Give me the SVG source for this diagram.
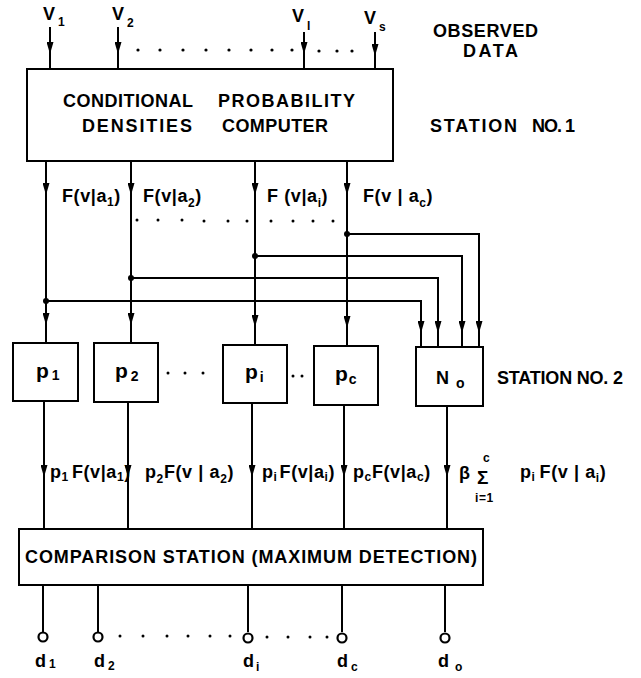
<svg xmlns="http://www.w3.org/2000/svg" width="641" height="678" viewBox="0 0 641 678">
<style>
.ln{stroke:#000;stroke-width:2;fill:none}
.bx{fill:#fff;stroke:#000;stroke-width:2}
.t{font-family:"Liberation Sans",Arial,sans-serif;font-weight:bold;font-size:18px;fill:#000}
.lb{letter-spacing:0.6px}
.s{font-size:12px}
.big{font-size:21px}
.bs{font-size:14px}
.dt{fill:#000}
.term{fill:#fff;stroke:#000;stroke-width:2.2}
</style>
<defs>
<marker id="ah" viewBox="0 0 12 7" refX="12" refY="3.5" markerWidth="12" markerHeight="7" markerUnits="userSpaceOnUse" orient="auto" preserveAspectRatio="none">
<path d="M0,0 L12,3.5 L0,7 z" fill="#000"/>
</marker>
</defs>
<rect width="641" height="678" fill="#fff"/>

<g id="connectors">
<path class="ln" marker-mid="url(#ah)" d="M50,27 V54 V69"/>
<path class="ln" marker-mid="url(#ah)" d="M118,27 V54 V69"/>
<path class="ln" marker-mid="url(#ah)" d="M304,32 V54 V69"/>
<path class="ln" marker-mid="url(#ah)" d="M375,32 V56 V69"/>
<path class="ln" marker-mid="url(#ah)" d="M46,161 V195 V325 V343"/>
<path class="ln" marker-mid="url(#ah)" d="M131,161 V195 V325 V343"/>
<path class="ln" marker-mid="url(#ah)" d="M255,161 V195 V327 V345"/>
<path class="ln" marker-mid="url(#ah)" d="M347,161 V195 V328 V346"/>
<path class="ln" marker-end="url(#ah)" d="M347,234 H479 V333"/>
<path class="ln" d="M479,333 V347"/>
<path class="ln" marker-end="url(#ah)" d="M255,256 H462 V333"/>
<path class="ln" d="M462,333 V347"/>
<path class="ln" marker-end="url(#ah)" d="M131,278 H438 V333"/>
<path class="ln" d="M438,333 V347"/>
<path class="ln" marker-end="url(#ah)" d="M46,301 H421 V333"/>
<path class="ln" d="M421,333 V347"/>
<circle class="dt" cx="347" cy="234" r="3"/>
<circle class="dt" cx="255" cy="256" r="3"/>
<circle class="dt" cx="131" cy="278" r="3"/>
<circle class="dt" cx="46" cy="301" r="3"/>
<path class="ln" marker-mid="url(#ah)" d="M44,401 V477 V529"/>
<path class="ln" marker-mid="url(#ah)" d="M128,402 V477 V529"/>
<path class="ln" marker-mid="url(#ah)" d="M252,403 V477 V529"/>
<path class="ln" marker-mid="url(#ah)" d="M344,405 V477 V529"/>
<path class="ln" marker-mid="url(#ah)" d="M447,406 V477 V529"/>
<path class="ln" d="M43,585 V632"/>
<path class="ln" d="M98,585 V632"/>
<path class="ln" d="M248,585 V632"/>
<path class="ln" d="M342,585 V632"/>
<path class="ln" d="M445,585 V632"/>
</g>

<g id="dots" class="dt">
<circle cx="138" cy="50" r="1.6"/><circle cx="160" cy="50" r="1.6"/><circle cx="183" cy="50" r="1.6"/><circle cx="206" cy="50" r="1.6"/><circle cx="229" cy="50" r="1.6"/><circle cx="251" cy="50" r="1.6"/><circle cx="272" cy="50" r="1.6"/><circle cx="292" cy="50" r="1.6"/><circle cx="319" cy="51" r="1.6"/><circle cx="337" cy="51" r="1.6"/><circle cx="352" cy="51" r="1.6"/>
<circle cx="137" cy="220" r="1.5"/><circle cx="158" cy="220" r="1.5"/><circle cx="182" cy="220" r="1.5"/><circle cx="204" cy="221" r="1.5"/><circle cx="228" cy="221" r="1.5"/><circle cx="247" cy="221" r="1.5"/><circle cx="271" cy="221" r="1.5"/><circle cx="293" cy="221" r="1.5"/><circle cx="313" cy="221" r="1.5"/><circle cx="333" cy="221" r="1.5"/>
<circle cx="168" cy="373" r="1.5"/><circle cx="185" cy="373" r="1.5"/><circle cx="203" cy="373" r="1.5"/>
<circle cx="293" cy="376" r="1.5"/><circle cx="302" cy="376" r="1.5"/>
<circle cx="120" cy="636" r="1.5"/><circle cx="143" cy="636" r="1.5"/><circle cx="167" cy="636" r="1.5"/><circle cx="188" cy="636" r="1.5"/><circle cx="210" cy="636" r="1.5"/><circle cx="230" cy="636" r="1.5"/>
<circle cx="267" cy="637" r="1.5"/><circle cx="288" cy="637" r="1.5"/><circle cx="310" cy="637" r="1.5"/><circle cx="327" cy="637" r="1.5"/>
</g>

<g id="inputs" class="t">
<text x="43" y="20">V<tspan class="s" dx="3" dy="6">1</tspan></text>
<text x="112" y="20">V<tspan class="s" dx="3" dy="7">2</tspan></text>
<text x="292" y="22">V<tspan class="s" dx="3" dy="8">l</tspan></text>
<text x="364" y="24">V<tspan class="s" dx="3" dy="7">s</tspan></text>
<text x="433" y="37" textLength="105">OBSERVED</text>
<text x="463" y="57" textLength="55">DATA</text>
</g>

<g id="station1">
<rect class="bx" x="27" y="69" width="366" height="92"/>
<g class="t">
<text x="63" y="107" textLength="130">CONDITIONAL</text>
<text x="218" y="107" textLength="137">PROBABILITY</text>
<text x="82" y="132" textLength="110">DENSITIES</text>
<text x="222" y="132" textLength="106">COMPUTER</text>
</g>
</g>
<text class="t" x="430" y="132" textLength="87">STATION</text>
<text class="t" x="532" y="132" textLength="43">NO. 1</text>

<g id="flabels" class="t lb">
<text x="62" y="202">F(v|a<tspan class="s" dy="4">1</tspan><tspan dy="-4">)</tspan></text>
<text x="143" y="202">F(v|a<tspan class="s" dy="5">2</tspan><tspan dy="-5">)</tspan></text>
<text x="267" y="202">F (v|a<tspan class="s" dy="5">i</tspan><tspan dy="-5">)</tspan></text>
<text x="363" y="202">F(v | a<tspan class="s" dy="5">c</tspan><tspan dy="-5">)</tspan></text>
</g>

<g id="p1">
<rect class="bx" x="13" y="343" width="65" height="58"/>
<text class="t big" x="36" y="378">p<tspan class="bs" dx="3" dy="2">1</tspan></text>
</g>
<g id="p2">
<rect class="bx" x="94" y="343" width="64" height="59"/>
<text class="t big" x="115" y="378">p<tspan class="bs" dx="3" dy="3">2</tspan></text>
</g>
<g id="pi">
<rect class="bx" x="223" y="345" width="64" height="58"/>
<text class="t big" x="245" y="379">p<tspan class="bs" dx="2" dy="3">i</tspan></text>
</g>
<g id="pc">
<rect class="bx" x="314" y="346" width="64" height="59"/>
<text class="t big" x="335" y="381">p<tspan class="bs" dx="1" dy="3">c</tspan></text>
</g>
<g id="No">
<rect class="bx" x="416" y="347" width="67" height="59"/>
<text class="t" x="436" y="384">N<tspan class="bs" dx="7" dy="4">o</tspan></text>
</g>
<text class="t" x="497" y="384" textLength="126">STATION NO. 2</text>

<g id="plabels" class="t lb">
<text x="50" y="478">p<tspan class="s" dy="3">1</tspan><tspan dx="3" dy="-3">F(v|a</tspan><tspan class="s" dy="3">1</tspan><tspan dy="-3">)</tspan></text>
<text x="145" y="478">p<tspan class="s" dy="5">2</tspan><tspan dy="-5">F(v | a</tspan><tspan class="s" dy="5">2</tspan><tspan dy="-5">)</tspan></text>
<text x="262" y="478">p<tspan class="s" dy="3">i</tspan><tspan dx="2" dy="-3">F(v|a</tspan><tspan class="s" dy="3">i</tspan><tspan dy="-3">)</tspan></text>
<text x="353" y="478">p<tspan class="s" dy="3">c</tspan><tspan dy="-3">F(v|a</tspan><tspan class="s" dy="3">c</tspan><tspan dy="-3">)</tspan></text>
<text x="459" y="479">β</text>
<text x="477" y="484" style="font-size:19px">Σ</text>
<text x="483" y="462" class="s">c</text>
<text x="475" y="502" class="s">i=1</text>
<text x="520" y="478">p<tspan class="s" dy="3">i</tspan><tspan dx="4" dy="-3">F(v | a</tspan><tspan class="s" dy="4">i</tspan><tspan dy="-4">)</tspan></text>
</g>

<g id="comparison">
<rect class="bx" x="19" y="529" width="464" height="56"/>
<text class="t" x="25" y="563" textLength="452">COMPARISON STATION (MAXIMUM DETECTION)</text>
</g>

<g id="outputs">
<circle class="term" cx="43" cy="637" r="4.5"/>
<circle class="term" cx="98" cy="637" r="4.5"/>
<circle class="term" cx="248" cy="638" r="4.5"/>
<circle class="term" cx="342" cy="638" r="4.5"/>
<circle class="term" cx="445" cy="638" r="4.5"/>
<g class="t">
<text x="35" y="667">d<tspan class="s" dx="3" dy="1">1</tspan></text>
<text x="94" y="667">d<tspan class="s" dx="3" dy="3">2</tspan></text>
<text x="243" y="667">d<tspan class="s" dx="2" dy="4">i</tspan></text>
<text x="337" y="667">d<tspan class="s" dx="3" dy="4">c</tspan></text>
<text x="438" y="667">d<tspan class="s" dx="6" dy="4">o</tspan></text>
</g>
</g>
</svg>
